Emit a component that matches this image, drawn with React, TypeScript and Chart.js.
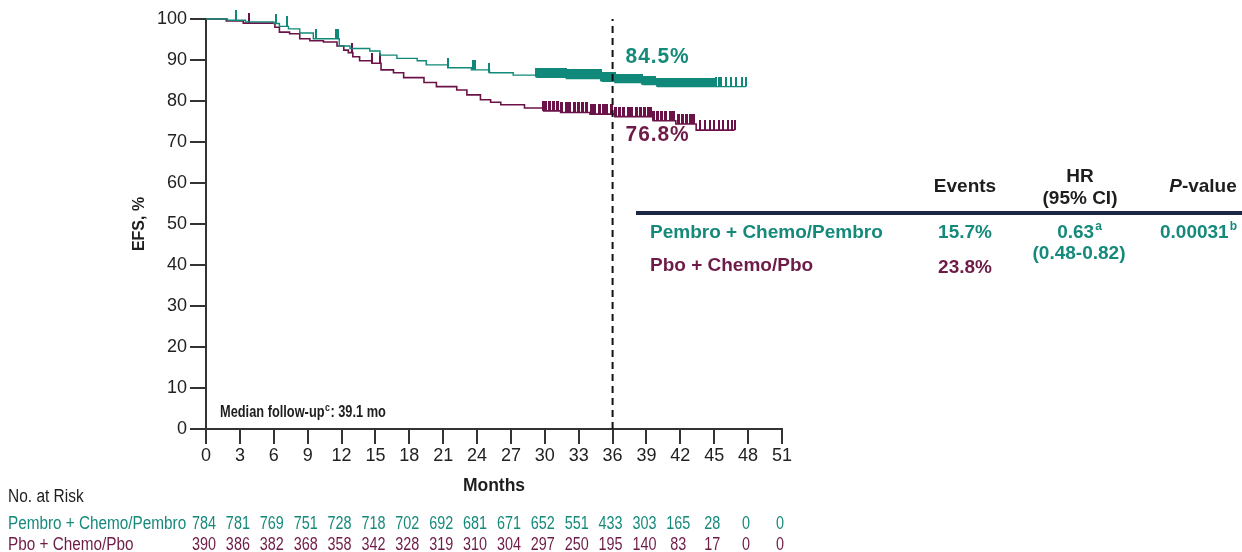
import React, { useEffect, useRef } from 'react';
import { Chart, registerables } from 'chart.js';

Chart.register(...registerables);

// ---------- data ----------
const xTicks = [0, 3, 6, 9, 12, 15, 18, 21, 24, 27, 30, 33, 36, 39, 42, 45, 48, 51];
const yTicks = [0, 10, 20, 30, 40, 50, 60, 70, 80, 90, 100];

const pembroTimes = [0, 1.9, 3.5, 6.0, 6.5, 7.3, 8.3, 9.5, 11.8, 12.75, 14.5, 15.4, 16.9, 18.7, 19.5, 21.4, 23.5, 25.1, 27.2, 29.3, 31.9, 35.1, 36.2, 38.7, 40.0, 47.8];
const pembroSurv = [100, 99.7, 99.3, 98.9, 98.2, 97.6, 96.6, 95.2, 93.4, 92.8, 92.2, 91.2, 90.4, 89.8, 88.8, 88.1, 87.6, 86.9, 86.3, 85.8, 85.5, 84.8, 84.5, 84.0, 83.5, 83.5];

const pboTimes = [0, 1.8, 3.3, 6.1, 6.5, 7.4, 8.3, 9.2, 10.4, 11.6, 12.2, 12.6, 13.0, 13.6, 14.7, 15.5, 16.6, 17.5, 19.3, 20.4, 22.2, 23.1, 24.3, 25.2, 26.1, 28.2, 29.9, 31.4, 34.0, 36.2, 39.6, 41.6, 43.4, 46.8];
const pboSurv = [100, 99.5, 99.0, 98.0, 96.8, 96.4, 95.2, 94.7, 94.4, 93.4, 92.4, 91.8, 90.8, 89.8, 89.2, 87.6, 86.9, 85.7, 84.5, 83.5, 82.7, 81.5, 80.3, 79.7, 79.1, 78.3, 77.6, 77.2, 76.8, 76.2, 75.2, 74.4, 72.9, 72.9];

const pembroCensorSparse = [2.7, 6.2, 7.2, 9.7, 11.5, 11.7, 21.4, 23.6, 23.8, 25.1, 45.2, 45.4, 45.6, 46.0, 46.5, 46.9, 47.5, 47.8];
const pembroCensorDense = [29.3, 29.5, 29.8, 30.0, 30.3, 30.5, 30.8, 31.0, 31.3, 31.5, 31.8, 32.1, 32.3, 32.6, 32.8, 33.1, 33.3, 33.6, 33.8, 34.1, 34.4, 34.6, 34.9, 35.1, 35.4, 35.6, 35.9, 36.1, 36.4, 36.7, 36.9, 37.2, 37.4, 37.7, 37.9, 38.2, 38.5, 38.7, 39.0, 39.2, 39.5, 39.7, 40.0, 40.3, 40.5, 40.8, 41.0, 41.3, 41.5, 41.8, 42.0, 42.3, 42.6, 42.8, 43.1, 43.3, 43.6, 43.8, 44.1, 44.4, 44.6, 44.9];

const pboCensorSparse = [3.8, 12.9, 14.7, 15.4, 43.7, 44.2, 44.6, 45.0, 45.4, 45.8, 46.2, 46.6, 46.8];
const pboCensorDense = [29.9, 30.1, 30.4, 30.8, 31.1, 31.5, 31.9, 32.2, 32.6, 33.0, 33.3, 33.7, 34.1, 34.4, 34.8, 35.2, 35.5, 35.9, 36.3, 36.6, 37.0, 37.4, 37.7, 38.1, 38.5, 38.8, 39.2, 39.4, 39.6, 40.0, 40.3, 40.7, 41.1, 41.4, 41.8, 42.2, 42.5, 42.9, 43.2];

const pembroAtRisk = [784, 781, 769, 751, 728, 718, 702, 692, 681, 671, 652, 551, 433, 303, 165, 28, 0, 0];
const pboAtRisk = [390, 386, 382, 368, 358, 342, 328, 319, 310, 304, 297, 250, 195, 140, 83, 17, 0, 0];

const landmarkMonth = 36;
const pembroLandmark = '84.5%';
const pboLandmark = '76.8%';

const armNames = ['Pembro + Chemo/Pembro', 'Pbo + Chemo/Pbo'];
const eventsCol = ['15.7%', '23.8%'];
const hrValue = '0.63';
const hrCI = '(0.48-0.82)';
const pValue = '0.00031';

// ---------- style ----------
const TEAL = '#11897a';
const MAROON = '#6b1248';
const TEAL_TXT = '#158a7b';
const MAROON_TXT = '#6e1c47';
const DARK = '#1e1e1e';
const AXIS = '#333333';
const SANS = '"Liberation Sans", Arial, sans-serif';

function survAt(times: number[], surv: number[], t: number) {
  let v = surv[0];
  for (let i = 0; i < times.length; i++) if (times[i] <= t) v = surv[i];
  return v;
}

function tickImage(color: string, w: number, h: number) {
  const c = document.createElement('canvas');
  c.width = w;
  c.height = h * 2;
  const ctx = c.getContext('2d')!;
  ctx.fillStyle = color;
  ctx.fillRect(0, 0, w, h);
  return c;
}

function txt(
  ctx: CanvasRenderingContext2D,
  s: string,
  x: number,
  y: number,
  font: string,
  color: string,
  align: CanvasTextAlign = 'left',
  sx = 1
) {
  ctx.save();
  ctx.font = font;
  ctx.fillStyle = color;
  ctx.textAlign = align;
  ctx.textBaseline = 'middle';
  ctx.translate(x, y);
  ctx.scale(sx, 1);
  ctx.fillText(s, 0, 0);
  ctx.restore();
}

function width(ctx: CanvasRenderingContext2D, s: string, font: string, sx = 1) {
  ctx.save();
  ctx.font = font;
  const w = ctx.measureText(s).width * sx;
  ctx.restore();
  return w;
}

const annotPlugin = {
  id: 'annot',
  afterDraw(chart: any) {
    const ctx: CanvasRenderingContext2D = chart.ctx;
    const xs = chart.scales.x;
    const ys = chart.scales.y;
    ctx.save();

    // landmark labels
    const lx = xs.getPixelForValue(landmarkMonth) + 13;
    (ctx as any).letterSpacing = '1px';
    txt(ctx, pembroLandmark, lx, ys.getPixelForValue(84.5) - 26, `bold 22px ${SANS}`, TEAL_TXT, 'left', 0.95);
    txt(ctx, pboLandmark, lx, ys.getPixelForValue(76.8) + 21, `bold 22px ${SANS}`, MAROON_TXT, 'left', 0.95);
    (ctx as any).letterSpacing = '0px';

    // median follow-up
    {
      const x0 = 220, y0 = 413, sc = 0.8;
      const f = `bold 16px ${SANS}`;
      const fs = `bold 11px ${SANS}`;
      txt(ctx, 'Median follow-up', x0, y0, f, DARK, 'left', sc);
      const w1 = width(ctx, 'Median follow-up', f, sc);
      txt(ctx, 'c', x0 + w1 + 0.5, y0 - 5, fs, DARK, 'left', sc);
      const w2 = width(ctx, 'c', fs, sc);
      txt(ctx, ': 39.1 mo', x0 + w1 + w2 + 1, y0, f, DARK, 'left', sc);
    }

    // table
    const TB = `bold 19px ${SANS}`;
    const TI = `italic bold 19px ${SANS}`;
    const SUP = `bold 12px ${SANS}`;
    txt(ctx, 'Events', 965, 187, TB, DARK, 'center');
    txt(ctx, 'HR', 1080, 177, TB, DARK, 'center');
    txt(ctx, '(95% CI)', 1080, 199, TB, DARK, 'center');
    {
      const wp = width(ctx, 'P', TI);
      const wv = width(ctx, '-value', TB);
      const sx = 1203 - (wp + wv) / 2;
      txt(ctx, 'P', sx, 187, TI, DARK);
      txt(ctx, '-value', sx + wp, 187, TB, DARK);
    }
    ctx.strokeStyle = '#1c2747';
    ctx.lineWidth = 4;
    ctx.beginPath();
    ctx.moveTo(636, 213);
    ctx.lineTo(1242, 213);
    ctx.stroke();

    txt(ctx, armNames[0], 650, 233, TB, TEAL_TXT);
    txt(ctx, armNames[1], 650, 266, TB, MAROON_TXT);
    txt(ctx, eventsCol[0], 965, 233, TB, TEAL_TXT, 'center');
    txt(ctx, eventsCol[1], 965, 268, TB, MAROON_TXT, 'center');
    {
      const w = width(ctx, hrValue, TB);
      const ws = width(ctx, 'a', SUP);
      const sx = 1079 - (w + ws) / 2;
      txt(ctx, hrValue, sx, 233, TB, TEAL_TXT);
      txt(ctx, 'a', sx + w + 1, 227, SUP, TEAL_TXT);
    }
    txt(ctx, hrCI, 1079, 254, TB, TEAL_TXT, 'center');
    {
      const w = width(ctx, pValue, TB);
      txt(ctx, pValue, 1160, 233, TB, TEAL_TXT);
      txt(ctx, 'b', 1160 + w + 1, 227, SUP, TEAL_TXT);
    }

    // at risk table
    const AR = `18px ${SANS}`;
    txt(ctx, 'No. at Risk', 8, 497, AR, DARK, 'left', 0.86);
    txt(ctx, armNames[0], 8, 524, AR, TEAL_TXT, 'left', 0.85);
    txt(ctx, armNames[1], 8, 545, AR, MAROON_TXT, 'left', 0.85);
    xTicks.forEach((m, i) => {
      const px = xs.getPixelForValue(m) - 2;
      txt(ctx, String(pembroAtRisk[i]), px, 524, AR, TEAL_TXT, 'center', 0.8);
      txt(ctx, String(pboAtRisk[i]), px, 545, AR, MAROON_TXT, 'center', 0.8);
    });

    ctx.restore();
  },
};

export default function App() {
  const ref = useRef<HTMLCanvasElement | null>(null);

  useEffect(() => {
    if (!ref.current) return;
    const curve = (t: number[], s: number[]) => t.map((x, i) => ({ x, y: s[i] }));
    const cens = (c: number[], t: number[], s: number[]) => c.map((x) => ({ x, y: survAt(t, s, x) }));

    const tealThin = tickImage(TEAL, 2, 10);
    const tealWide = tickImage(TEAL, 4, 9);
    const marThin = tickImage(MAROON, 2, 10);
    const marWide = tickImage(MAROON, 3, 10);

    const chart = new Chart(ref.current, {
      type: 'line',
      data: {
        datasets: [
          {
            label: 'landmark',
            data: [{ x: landmarkMonth, y: 0 }, { x: landmarkMonth, y: 100 }],
            borderColor: '#111',
            borderWidth: 2,
            borderDash: [7, 5],
            pointRadius: 0,
            order: 0,
          },
          {
            label: 'Pembro censor dense',
            data: cens(pembroCensorDense, pembroTimes, pembroSurv),
            showLine: false,
            pointStyle: tealWide as any,
            pointRadius: 3,
            clip: false as any,
            order: 1,
          },
          {
            label: 'Pembro censor',
            data: cens(pembroCensorSparse, pembroTimes, pembroSurv),
            showLine: false,
            pointStyle: tealThin as any,
            pointRadius: 3,
            clip: false as any,
            order: 1,
          },
          {
            label: 'Pembro + Chemo/Pembro',
            data: curve(pembroTimes, pembroSurv),
            borderColor: TEAL,
            borderWidth: 1.4,
            stepped: true,
            pointRadius: 0,
            clip: false as any,
            order: 2,
          },
          {
            label: 'Pbo censor dense',
            data: cens(pboCensorDense, pboTimes, pboSurv),
            showLine: false,
            pointStyle: marWide as any,
            pointRadius: 3,
            clip: false as any,
            order: 3,
          },
          {
            label: 'Pbo censor',
            data: cens(pboCensorSparse, pboTimes, pboSurv),
            showLine: false,
            pointStyle: marThin as any,
            pointRadius: 3,
            clip: false as any,
            order: 3,
          },
          {
            label: 'Pbo + Chemo/Pbo',
            data: curve(pboTimes, pboSurv),
            borderColor: MAROON,
            borderWidth: 1.6,
            stepped: true,
            pointRadius: 0,
            clip: false as any,
            order: 4,
          },
        ],
      },
      options: {
        responsive: false,
        animation: false,
        events: [],
        layout: { padding: { left: 120, right: 460, top: 19, bottom: 50 } },
        plugins: { legend: { display: false }, tooltip: { enabled: false } },
        scales: {
          x: {
            type: 'linear',
            min: 0,
            max: 51,
            afterBuildTicks: (s: any) => {
              s.ticks = xTicks.map((v) => ({ value: v }));
            },
            afterFit: (s: any) => {
              s.height = 73;
            },
            ticks: {
              autoSkip: false,
              maxRotation: 0,
              padding: 1,
              color: '#222',
              font: { family: SANS, size: 18 },
            },
            grid: { drawOnChartArea: false, drawTicks: true, tickLength: 15, color: AXIS, lineWidth: 2 },
            border: { color: AXIS, width: 2 },
            title: {
              display: true,
              text: 'Months',
              color: DARK,
              font: { family: SANS, size: 17.5, weight: 'bold' },
              padding: { top: 0, bottom: 5 },
            },
          },
          y: {
            type: 'linear',
            min: 0,
            max: 100,
            afterBuildTicks: (s: any) => {
              s.ticks = yTicks.map((v) => ({ value: v }));
            },
            afterFit: (s: any) => {
              s.width = 86;
            },
            ticks: {
              padding: 3,
              color: '#222',
              font: { family: SANS, size: 18 },
            },
            grid: { drawOnChartArea: false, drawTicks: true, tickLength: 16, color: AXIS, lineWidth: 2 },
            border: { color: AXIS, width: 2 },
            title: {
              display: true,
              text: 'EFS, %',
              color: DARK,
              font: { family: SANS, size: 16, weight: 'bold' },
              padding: { top: 10, bottom: 0 },
            },
          },
        },
      },
      plugins: [annotPlugin],
    } as any);

    return () => chart.destroy();
  }, []);

  return (
    <div style={{ position: 'fixed', left: 0, top: 0, width: 1242, height: 552, background: '#fff' }}>
      <canvas ref={ref} width={1242} height={552} style={{ display: 'block', width: 1242, height: 552 }} />
    </div>
  );
}
